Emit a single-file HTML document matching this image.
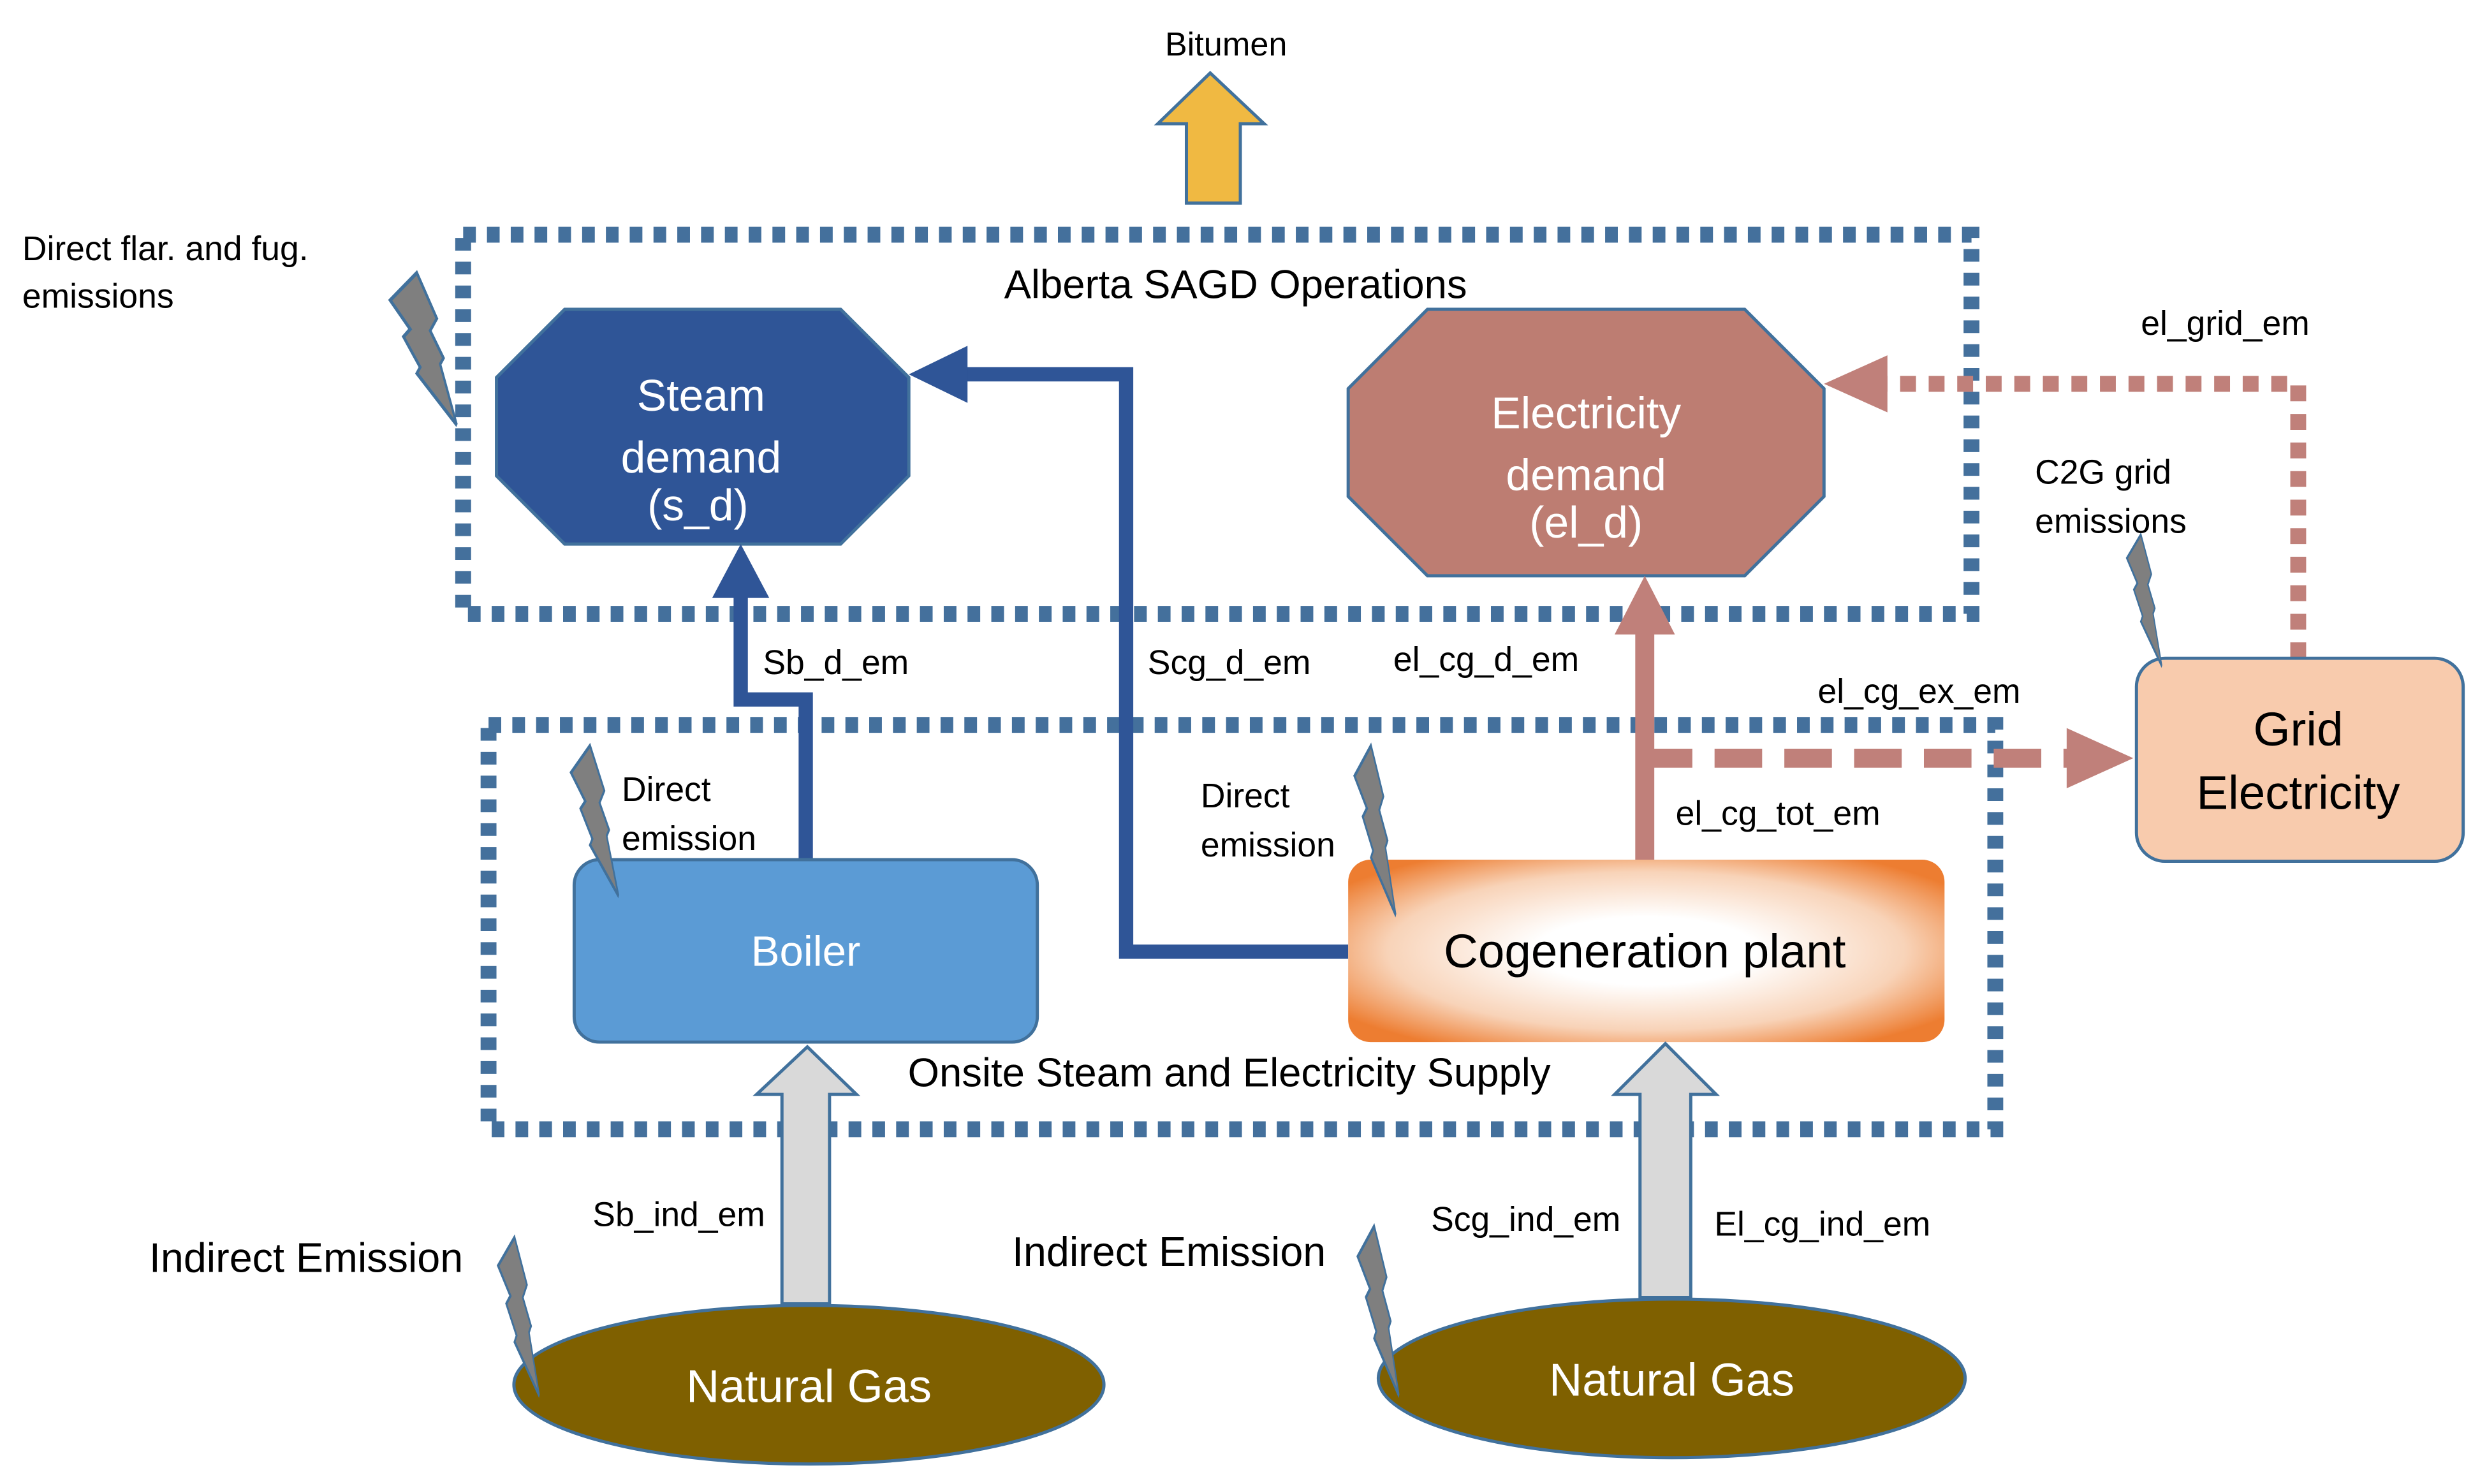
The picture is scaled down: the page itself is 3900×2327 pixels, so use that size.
<!DOCTYPE html>
<html><head><meta charset="utf-8"><style>html,body{margin:0;padding:0;background:#fff}svg{display:block}</style></head>
<body>
<svg width="3900" height="2327" viewBox="0 0 1568 935.6" xmlns="http://www.w3.org/2000/svg" font-family="'Liberation Sans', sans-serif">
<defs>
<radialGradient id="cg" cx="0.5" cy="0.5" r="0.62">
<stop offset="0.3" stop-color="#ffffff"/><stop offset="0.7" stop-color="#f8d3b8"/><stop offset="1" stop-color="#ED7D31"/>
</radialGradient>
<polygon id="bolt" points="0.4,0 0,0.18 0.3,0.37 0.2,0.42 0.45,0.62 0.4,0.66 1,1 0.75,0.6 0.8,0.56 0.6,0.38 0.7,0.3" />
</defs>
<polygon points="748,128 782,128 782,78 797,78 763,46 730,78 748,78" fill="#F0B942" stroke="#41719C" stroke-width="2"/>
<text x="773" y="35" font-size="21" text-anchor="middle">Bitumen</text>
<rect x="292" y="148" width="951" height="239" fill="none" stroke="#44709C" stroke-width="10" stroke-dasharray="8 7"/>
<rect x="308" y="457" width="950" height="255" fill="none" stroke="#44709C" stroke-width="10" stroke-dasharray="8 7"/>
<text x="779" y="188" font-size="25.5" text-anchor="middle">Alberta SAGD Operations</text>
<text x="775" y="685" font-size="25.5" text-anchor="middle">Onsite Steam and Electricity Supply</text>
<polygon points="356,195 530,195 573,238 573,300 530,343 356,343 313,300 313,238" fill="#2F5597" stroke="#41719C" stroke-width="2"/>
<text fill="#fff" font-size="28" text-anchor="middle"><tspan x="442" y="259">Steam</tspan><tspan x="442" y="298">demand</tspan><tspan x="440" y="328">(s_d)</tspan></text>
<polygon points="900,195 1100,195 1150,245 1150,313 1100,363 900,363 850,313 850,245" fill="#BD7D72" stroke="#41719C" stroke-width="2"/>
<text fill="#fff" font-size="28" text-anchor="middle"><tspan x="1000" y="270">Electricity</tspan><tspan x="1000" y="309">demand</tspan><tspan x="1000" y="339">(el_d)</tspan></text>
<polyline points="508,542 508,441 467,441 467,375" fill="none" stroke="#2F5597" stroke-width="9"/>
<polygon points="449,377 485,377 467,343" fill="#2F5597"/>
<polyline points="850,600 710,600 710,236 608,236" fill="none" stroke="#2F5597" stroke-width="9"/>
<polygon points="610,218 610,254 573,236" fill="#2F5597"/>
<line x1="1037" y1="542" x2="1037" y2="398" stroke="#C0807A" stroke-width="12"/>
<polygon points="1018,400 1056,400 1037,363" fill="#C0807A"/>
<line x1="1037" y1="478" x2="1305" y2="478" stroke="#C0807A" stroke-width="12" stroke-dasharray="30 14"/>
<polygon points="1303,459 1303,497 1345,478" fill="#C0807A"/>
<polyline points="1449,415 1449,242 1188,242" fill="none" stroke="#C0807A" stroke-width="10" stroke-dasharray="10 8"/>
<polygon points="1190,224 1190,260 1150,242" fill="#C0807A"/>
<rect x="362" y="542" width="292" height="115" rx="16" fill="#5B9BD5" stroke="#41719C" stroke-width="2"/>
<text x="508" y="609" fill="#fff" font-size="27" text-anchor="middle">Boiler</text>
<rect x="850" y="542" width="376" height="115" rx="14" fill="url(#cg)"/>
<text x="1037" y="610" font-size="30" text-anchor="middle">Cogeneration plant</text>
<rect x="1347" y="415" width="206" height="128" rx="18" fill="#F8CBAD" stroke="#41719C" stroke-width="2"/>
<text font-size="30" text-anchor="middle"><tspan x="1449" y="470">Grid</tspan><tspan x="1449" y="510">Electricity</tspan></text>
<polygon points="493,822 523,822 523,690 540,690 509,660 477,690 493,690" fill="#D9D9D9" stroke="#41719C" stroke-width="2"/>
<polygon points="1034,818 1066,818 1066,690 1082,690 1050,658 1018,690 1034,690" fill="#D9D9D9" stroke="#41719C" stroke-width="2"/>
<ellipse cx="510" cy="873" rx="186" ry="50" fill="#7F6000" stroke="#41719C" stroke-width="2"/>
<text x="510" y="884" fill="#fff" font-size="29" text-anchor="middle">Natural Gas</text>
<ellipse cx="1054" cy="869" rx="185" ry="50" fill="#7F6000" stroke="#41719C" stroke-width="2"/>
<text x="1054" y="880" fill="#fff" font-size="29" text-anchor="middle">Natural Gas</text>
<g fill="#7F7F7F" stroke="#41719C" stroke-width="0.03">
<use href="#bolt" transform="translate(246,172) scale(42,96)"/>
<use href="#bolt" transform="translate(360,470) scale(30,95)"/>
<use href="#bolt" transform="translate(854,470) scale(26,107)"/>
<use href="#bolt" transform="translate(1341,337) scale(22,83)"/>
<use href="#bolt" transform="translate(314,780) scale(26,100)"/>
<use href="#bolt" transform="translate(856,773) scale(26,107)"/>
</g>
<g font-size="21.5">
<text x="527" y="425" text-anchor="middle">Sb_d_em</text>
<text x="775" y="425" text-anchor="middle">Scg_d_em</text>
<text x="937" y="423" text-anchor="middle">el_cg_d_em</text>
<text x="1210" y="443" text-anchor="middle">el_cg_ex_em</text>
<text x="1121" y="520" text-anchor="middle">el_cg_tot_em</text>
<text x="1403" y="211" text-anchor="middle">el_grid_em</text>
<text x="1283" y="305">C2G grid</text><text x="1283" y="336">emissions</text>
<text x="14" y="164">Direct flar. and fug.</text><text x="14" y="194">emissions</text>
<text x="392" y="505">Direct</text><text x="392" y="536">emission</text>
<text x="757" y="509">Direct</text><text x="757" y="540">emission</text>
<text x="428" y="773" text-anchor="middle">Sb_ind_em</text>
<text x="962" y="776" text-anchor="middle">Scg_ind_em</text>
<text x="1149" y="779" text-anchor="middle">El_cg_ind_em</text>
</g>
<text x="193" y="802" font-size="26" text-anchor="middle">Indirect Emission</text>
<text x="737" y="798" font-size="26" text-anchor="middle">Indirect Emission</text>
</svg>
</body></html>
